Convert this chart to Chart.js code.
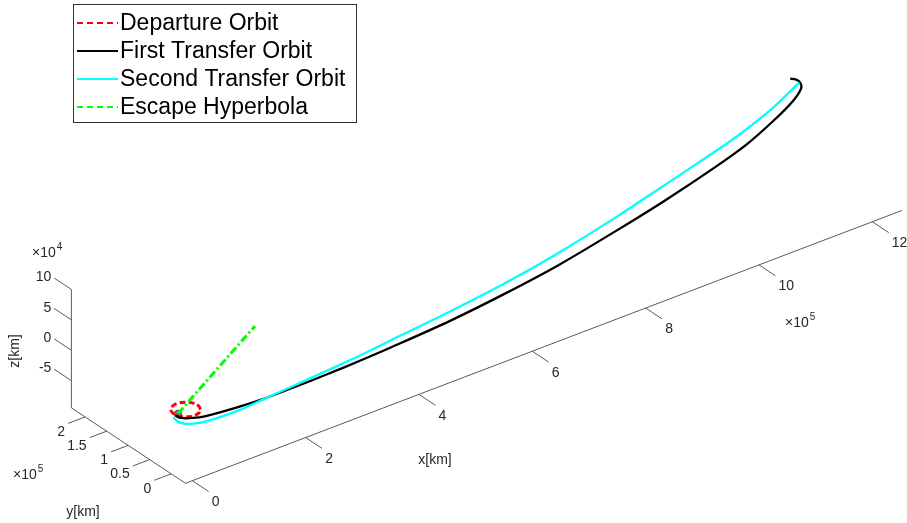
<!DOCTYPE html>
<html>
<head>
<meta charset="utf-8">
<script src="https://cdn.jsdelivr.net/npm/chart.js@4.4.0/dist/chart.umd.min.js"></script>
<style>
  html, body { margin: 0; padding: 0; background: #fff; }
</style>
</head>
<body>
<canvas id="myChart" width="907" height="523"></canvas>
<script>
// x, y in 1e5 km, z in 1e4 km (same units as the tick labels)
const departureX = [0.323, 0.362, 0.348, 0.281, 0.181, 0.074, -0.01, -0.051, -0.034, 0.032, 0.132, 0.237, 0.323];
const departureY = [-0.099, -0.002, 0.106, 0.191, 0.232, 0.217, 0.153, 0.053, -0.052, -0.137, -0.178, -0.166, -0.099];
const departureZ = [0, 0, 0, 0, 0, 0, 0, 0, 0, 0, 0, 0, 0];

const firstX = [-0.064, -0.039, 0.094, 0.271, 0.645, 1.185, 1.758, 2.359, 2.954, 3.502, 4.618, 5.684, 6.783, 8.045, 9.056, 10.166, 10.93, 11.628, 12.19, 12.486, 12.575, 12.58, 12.53];
const firstY = [-0.017, -0.122, -0.223, -0.289, -0.348, -0.396, -0.399, -0.389, -0.365, -0.332, -0.241, -0.102, 0.082, 0.366, 0.616, 0.929, 1.177, 1.475, 1.756, 1.962, 2.102, 2.201, 2.274];
const firstZ = [0, 0, 0, 0, 0, 0, 0, 0, 0, 0, 0, 0, 0, 0, 0, 0, 0, 0, 0, 0, 0, 0, 0];

const secondX = [-0.111, -0.138, -0.083, 0.089, 0.321, 0.748, 1.175, 1.79, 2.424, 3.042, 3.815, 4.776, 5.858, 6.991, 8.278, 8.942, 10.053, 10.952, 11.75, 12.287, 12.564];
const secondY = [-0.033, -0.185, -0.296, -0.391, -0.43, -0.443, -0.409, -0.358, -0.304, -0.249, -0.149, -0.033, 0.128, 0.355, 0.672, 0.858, 1.17, 1.436, 1.728, 1.976, 2.11];
const secondZ = [0, 0, 0, 0, 0, 0, 0, 0, 0, 0, 0, 0, 0, 0, 0, 0, 0, 0, 0, 0, 0];

const escapeX = [0, 0.68, 1.36];
const escapeY = [0, 0, 0];
const escapeZ = [0, 4.8, 9.6];

const earth = [0, 0, 0];

const xTicks = [0, 2, 4, 6, 8, 10, 12];
const yTicks = [0, 0.5, 1, 1.5, 2];
const zTicks = [-5, 0, 5, 10];
const xLim = [-0.12, 13.3];
const yLim = [-0.333, 2.32];
const zLim = [-9.47, 10];

const seriesNames = ['Departure Orbit', 'First Transfer Orbit', 'Second Transfer Orbit', 'Escape Hyperbola'];

// fixed 3d view: screen shift for one unit along each axis
const view = { ox: 174.9, oy: 416.6, ex: [57.3, -22.0], ey: [-43.5, -29.0], ez: [0, -6.2] };
function proj(x, y, z) {
    return {
        x: view.ox + x * view.ex[0] + y * view.ey[0] + z * view.ez[0],
        y: view.oy + x * view.ex[1] + y * view.ey[1] + z * view.ez[1]
    };
}
function curve(xs, ys, zs) {
    return xs.map((v, i) => proj(v, ys[i], zs[i]));
}

// box edges + tick marks, broken with nulls
const axisPts = [];
function seg(a, b) { axisPts.push(a, b, {x: null, y: null}); }
seg(proj(xLim[0], yLim[0], zLim[0]), proj(xLim[1], yLim[0], zLim[0]));
seg(proj(xLim[0], yLim[0], zLim[0]), proj(xLim[0], yLim[1], zLim[0]));
seg(proj(xLim[0], yLim[1], zLim[0]), proj(xLim[0], yLim[1], zLim[1]));
xTicks.forEach(v => seg(proj(v, yLim[0], zLim[0]), proj(v, yLim[0] - 0.38, zLim[0])));
yTicks.forEach(v => seg(proj(xLim[0], v, zLim[0]), proj(xLim[0] - 0.3, v, zLim[0])));
zTicks.forEach(v => seg(proj(xLim[0], yLim[1], v), proj(xLim[0], yLim[1] + 0.4, v)));

const FONT = '"Liberation Sans", Arial, Helvetica, sans-serif';
const INK = '#262626';

const legendItems = [
    {color: '#ff0000', dash: [6, 4]},
    {color: '#000000', dash: []},
    {color: '#00ffff', dash: []},
    {color: '#00ff00', dash: [6, 4]}
];

function power(ctx, x, y, exp) {
    ctx.textAlign = 'left';
    ctx.font = '14px ' + FONT;
    ctx.fillText('\u00d710', x, y);
    const w = ctx.measureText('\u00d710').width;
    ctx.font = '10px ' + FONT;
    ctx.fillText(exp, x + w + 1, y - 6);
}

const axisText = {
    id: 'axisText',
    afterDraw(chart) {
        const ctx = chart.ctx, sx = chart.scales.x, sy = chart.scales.y;
        const at = p => [sx.getPixelForValue(p.x), sy.getPixelForValue(p.y)];
        ctx.save();
        ctx.fillStyle = INK;
        ctx.textBaseline = 'middle';
        ctx.font = '14px ' + FONT;

        ctx.textAlign = 'left';
        xTicks.forEach(v => {
            const [px, py] = at(proj(v, yLim[0], zLim[0]));
            ctx.fillText(String(v), px + 19.5, py + 21.5);
        });
        ctx.textAlign = 'right';
        yTicks.forEach(v => {
            const [px, py] = at(proj(xLim[0], v, zLim[0]));
            ctx.fillText(String(v), px - 20, py + 15);
        });
        zTicks.forEach(v => {
            const [px, py] = at(proj(xLim[0], yLim[1], v));
            ctx.fillText(String(v), px - 20, py - 12);
        });

        power(ctx, 32, 253, '4');
        power(ctx, 13, 475, '5');
        power(ctx, 785, 323, '5');

        ctx.font = '14px ' + FONT;
        ctx.textAlign = 'center';
        ctx.fillText('x[km]', 435, 460);
        ctx.fillText('y[km]', 83, 512);
        ctx.save();
        ctx.translate(15, 351);
        ctx.rotate(-Math.PI / 2);
        ctx.fillText('z[km]', 0, 0);
        ctx.restore();

        // legend box
        ctx.fillStyle = '#fff';
        ctx.fillRect(73.5, 4.5, 283, 118);
        ctx.strokeStyle = '#333';
        ctx.lineWidth = 1;
        ctx.strokeRect(73.5, 4.5, 283, 118);
        ctx.font = '23px ' + FONT;
        ctx.textAlign = 'left';
        seriesNames.forEach((name, i) => {
            const y = 23 + i * 28;
            ctx.strokeStyle = legendItems[i].color;
            ctx.lineWidth = 2;
            ctx.setLineDash(legendItems[i].dash);
            ctx.beginPath();
            ctx.moveTo(77, y);
            ctx.lineTo(118, y);
            ctx.stroke();
            ctx.setLineDash([]);
            ctx.fillStyle = '#000';
            ctx.fillText(name, 120, y + 1);
        });
        ctx.restore();
    }
};

const lineBase = {showLine: true, pointRadius: 0, fill: false, tension: 0.3};

const myChart = new Chart(document.getElementById('myChart'), {
    type: 'scatter',
    data: {
        datasets: [
            Object.assign({}, lineBase, {
                label: seriesNames[3],
                data: curve(escapeX, escapeY, escapeZ),
                borderColor: '#00ff00',
                borderWidth: 3,
                borderDash: [8, 3, 2, 3],
                tension: 0
            }),
            Object.assign({}, lineBase, {
                label: seriesNames[2],
                data: curve(secondX, secondY, secondZ),
                borderColor: '#00ffff',
                borderWidth: 2.3
            }),
            Object.assign({}, lineBase, {
                label: seriesNames[1],
                data: curve(firstX, firstY, firstZ),
                borderColor: '#000000',
                borderWidth: 2.3
            }),
            Object.assign({}, lineBase, {
                label: seriesNames[0],
                data: curve(departureX, departureY, departureZ),
                borderColor: '#ff0000',
                borderWidth: 3,
                borderDash: [6, 3],
                tension: 0.4
            }),
            {
                label: 'Earth',
                data: [proj(earth[0], earth[1], earth[2])],
                pointRadius: 3.5,
                pointBackgroundColor: '#777',
                pointBorderColor: '#444',
                pointBorderWidth: 1
            },
            {
                label: 'axes',
                data: axisPts,
                showLine: true,
                spanGaps: false,
                pointRadius: 0,
                borderColor: '#5a5a5a',
                borderWidth: 1,
                tension: 0
            }
        ]
    },
    options: {
        responsive: false,
        animation: false,
        events: [],
        layout: {padding: 0},
        scales: {
            x: {type: 'linear', min: 0, max: 907, display: false},
            y: {type: 'linear', min: 0, max: 523, reverse: true, display: false}
        },
        plugins: {
            legend: {display: false},
            tooltip: {enabled: false}
        }
    },
    plugins: [axisText]
});
</script>
</body>
</html>
